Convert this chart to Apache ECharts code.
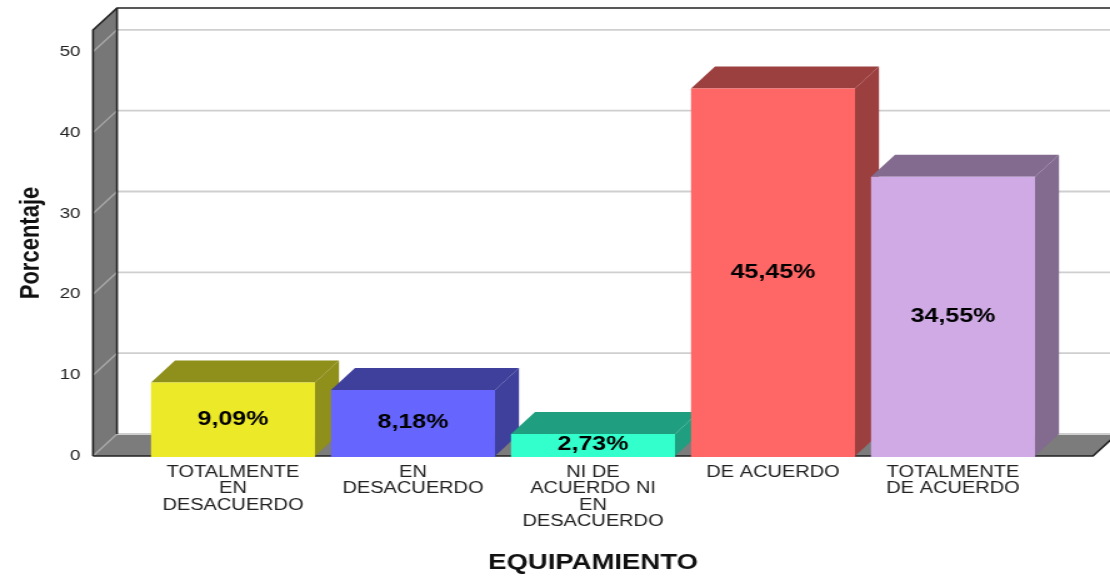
<!DOCTYPE html>
<html>
<head>
<meta charset="utf-8">
<style>
html,body{margin:0;padding:0;background:#fff;overflow:hidden}
#c{width:888px;height:579px;transform:scaleX(1.25);transform-origin:0 0}
</style>
<script src="https://cdn.jsdelivr.net/npm/echarts@6/dist/echarts.min.js"></script>
</head>
<body>
<div id="c"></div>
<script>
const categories = ['TOTALMENTE\nEN\nDESACUERDO','EN\nDESACUERDO','NI DE\nACUERDO NI\nEN\nDESACUERDO','DE ACUERDO','TOTALMENTE\nDE ACUERDO'];
const values = [9.09, 8.18, 2.73, 45.45, 34.55];
const valueLabels = ['9,09%','8,18%','2,73%','45,45%','34,55%'];
const yTicks = [0, 10, 20, 30, 40, 50];
const frontColors = ['#ebe928','#6666ff','#33ffcc','#ff6666','#cfaae5'];
const topColors = ['#8f8f1c','#3f3f9c','#1f9f7f','#9c3f3f','#826b8f'];
const sideColors = ['#8f8f1c','#3f3f9c','#1f9f7f','#9c3f3f','#826b8f'];

const FONT = '"Liberation Sans", Arial, sans-serif';
const yMax = 52.7;
const depthX = 19.2, depthY = -22, wing = 40;

function wallItem(params, api) {
  const cs = params.coordSys;
  const x0 = cs.x - wing, x1 = cs.x + cs.width + wing;
  const yb = api.coord([0, 0])[1], yt = api.coord([0, yMax])[1];
  const dark = {stroke:'#222', lineWidth:1.6};
  return {type:'group', children:[
    {type:'polygon', shape:{points:[[x0,yb],[x0,yt],[x0+depthX,yt+depthY],[x0+depthX,yb+depthY]]}, style:{fill:'#777777'}},
    {type:'polygon', shape:{points:[[x0,yb],[x0+depthX,yb+depthY],[x1+depthX,yb+depthY],[x1,yb]]}, style:{fill:'#7c7c7c'}}
  ]};
}
function edgeItem(params, api) {
  const cs = params.coordSys;
  const x0 = cs.x - wing, x1 = cs.x + cs.width + wing;
  const yb = api.coord([0, 0])[1], yt = api.coord([0, yMax])[1];
  const style = {stroke:'#222', lineWidth:1.6, fill:'none'};
  return {type:'group', children:[
    {type:'polyline', shape:{points:[[x0,yb],[x0,yt],[x0+depthX,yt+depthY],[x1+depthX,yt+depthY]]}, style},
    {type:'polyline', shape:{points:[[x0+depthX,yt+depthY],[x0+depthX,yb+depthY]]}, style},
    {type:'polyline', shape:{points:[[x0,yb],[x1,yb],[x1+depthX,yb+depthY]]}, style}
  ]};
}
function gridItem(params, api) {
  const cs = params.coordSys;
  const x0 = cs.x - wing, x1 = cs.x + cs.width + wing;
  const y = api.coord([0, api.value(1)])[1];
  return {type:'group', children:[
    {type:'line', shape:{x1:x0, y1:y, x2:x0+depthX, y2:y+depthY}, style:{stroke:'#a8a8a8', lineWidth:1.4}},
    {type:'line', shape:{x1:x0+depthX, y1:y+depthY, x2:x1+depthX, y2:y+depthY}, style:{stroke:'#cfcfcf', lineWidth:1.8}}
  ]};
}
function barItem(params, api) {
  const i = api.value(0), v = api.value(1);
  const top = api.coord([i, v]), base = api.coord([i, 0]);
  const w = api.size([1, 0])[0] * 0.911;
  const l = top[0] - w / 2, r = top[0] + w / 2;
  return {type:'group', children:[
    {type:'polygon', shape:{points:[[r,top[1]],[r+depthX,top[1]+depthY],[r+depthX,base[1]+depthY],[r,base[1]]]}, style:{fill:sideColors[i]}},
    {type:'polygon', shape:{points:[[l,top[1]],[l+depthX,top[1]+depthY],[r+depthX,top[1]+depthY],[r,top[1]]]}, style:{fill:topColors[i]}},
    {type:'rect', shape:{x:l, y:top[1], width:w, height:base[1]-top[1]+1}, style:{fill:frontColors[i]}},
    {type:'text', style:{text:valueLabels[i], x:top[0], y:(top[1]+base[1])/2, align:'center', verticalAlign:'middle',
      fill:'#000', fontFamily:FONT, fontWeight:'bold', fontSize:20}}
  ]};
}

const chart = echarts.init(document.getElementById('c'), null, {renderer:'canvas'});
chart.setOption({
  animation:false,
  backgroundColor:'#fff',
  grid:{left:114.4, width:720, top:30, height:428, containLabel:false},
  xAxis:{
    type:'category', data:categories,
    axisLine:{show:false}, axisTick:{show:false}, splitLine:{show:false},
    axisLabel:{interval:0, color:'#222', fontFamily:FONT, fontSize:16, lineHeight:16.5, margin:8},
    name:'EQUIPAMIENTO', nameLocation:'middle', nameGap:96,
    nameTextStyle:{color:'#111', fontFamily:FONT, fontWeight:'bold', fontSize:22}
  },
  yAxis:{
    type:'value', min:0, max:yMax, interval:10,
    axisLine:{show:false}, axisTick:{show:false}, splitLine:{show:false},
    axisLabel:{color:'#222', fontFamily:FONT, fontSize:15, margin:50,
      formatter:v => yTicks.includes(v) ? String(v) : ''},
    name:'Porcentaje', nameLocation:'middle', nameGap:78, nameRotate:90,
    nameTextStyle:{color:'#111', fontFamily:FONT, fontWeight:'bold', fontSize:22}
  },
  series:[
    {type:'custom', name:'walls', z:1, silent:true, renderItem:wallItem, data:[[0,0]], encode:{x:0,y:1}},
    {type:'custom', name:'gridlines', z:2, silent:true, renderItem:gridItem, data:yTicks.map(t=>[0,t]), encode:{x:0,y:1}},
    {type:'custom', name:'edges', z:3, silent:true, renderItem:edgeItem, data:[[0,0]], encode:{x:0,y:1}},
    {type:'custom', name:'Porcentaje', z:4, renderItem:barItem, data:values.map((v,i)=>[i,v]), encode:{x:0,y:1}}
  ]
});
</script>
</body>
</html>
